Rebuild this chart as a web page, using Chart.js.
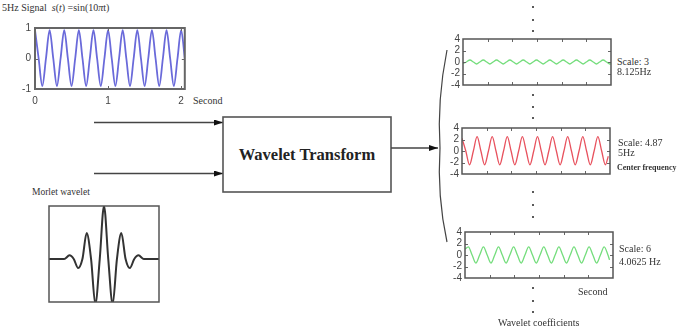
<!DOCTYPE html>
<html><head><meta charset="utf-8">
<script src="https://cdn.jsdelivr.net/npm/chart.js@4"></script>
<style>
html,body{margin:0;padding:0;background:#fff;width:696px;height:336px;overflow:hidden;}
#wrap{position:relative;width:696px;height:336px;}
canvas{position:absolute;}
svg{position:absolute;left:0;top:0;}
.t{position:absolute;font-family:"Liberation Serif","Times New Roman",serif;color:#333;white-space:nowrap;line-height:1;font-size:10px;}
.dot{position:absolute;width:2px;height:2px;background:#222;border-radius:1px;}
#boxtxt{position:absolute;left:223px;top:117px;width:168px;height:75px;display:flex;align-items:center;justify-content:center;font-family:"Liberation Serif","Times New Roman",serif;font-weight:bold;font-size:16.5px;color:#222;}
</style></head>
<body><div id="wrap">
<svg width="696" height="336">
  <defs>
    <marker id="ah" markerWidth="9" markerHeight="6" refX="9" refY="3" orient="auto" markerUnits="userSpaceOnUse">
      <path d="M0,0 L9,3 L0,6 z" fill="#111"/>
    </marker>
  </defs>
  <line x1="94" y1="122.5" x2="223" y2="122.5" stroke="#444" stroke-width="1.5" marker-end="url(#ah)"/>
  <line x1="94" y1="173.5" x2="223" y2="173.5" stroke="#444" stroke-width="1.5" marker-end="url(#ah)"/>
  <rect x="223" y="117" width="168" height="75" fill="#fff" stroke="#555" stroke-width="1.6"/>
  <line x1="391" y1="148" x2="438" y2="148" stroke="#444" stroke-width="1.5" marker-end="url(#ah)"/>
  <path d="M447,50 Q437,100 440,148 Q437,196 447,242" fill="none" stroke="#444" stroke-width="1.2"/>
</svg>
<div id="boxtxt">Wavelet Transform</div>

<canvas id="sig" width="180" height="90" style="left:10px;top:18px"></canvas>
<canvas id="mor" width="120" height="108" style="left:45px;top:200px"></canvas>
<canvas id="c1" width="178" height="64" style="left:438px;top:30px"></canvas>
<canvas id="c2" width="178" height="64" style="left:437px;top:119px"></canvas>
<canvas id="c3" width="178" height="64" style="left:440px;top:223px"></canvas>

<div class="t" style="left:2px;top:3px">5Hz Signal&nbsp; <i>s</i>(<i>t</i>) =sin(10<i>π</i>t)</div>
<div class="t" style="left:193px;top:96px">Second</div>
<div class="t" style="left:32px;top:188px;font-size:9.5px">Morlet wavelet</div>
<div class="t" style="left:617px;top:57px">Scale: 3</div>
<div class="t" style="left:617px;top:67px">8.125Hz</div>
<div class="t" style="left:618px;top:138px">Scale: 4.87</div>
<div class="t" style="left:618px;top:148px">5Hz</div>
<div class="t" style="left:617px;top:164px;font-size:8px;font-weight:bold">Center frequency</div>
<div class="t" style="left:619px;top:244px">Scale: 6</div>
<div class="t" style="left:619px;top:257px">4.0625 Hz</div>
<div class="t" style="left:578px;top:287px">Second</div>
<div class="t" style="left:498px;top:318px">Wavelet coefficients</div>
<div id="dots"></div>
</div>
<script>
// ---------- data ----------
const signalT = [0,0.05,0.1,0.15,0.2,0.25,0.3,0.35,0.4,0.45,0.5,0.55,0.6,0.65,0.7,0.75,0.8,0.85,0.9,0.95,1,1.05,1.1,1.15,1.2,1.25,1.3,1.35,1.4,1.45,1.5,1.55,1.6,1.65,1.7,1.75,1.8,1.85,1.9,1.95,2,2.05];
const signalV = [0.93,0,-0.9,0,0.93,0,-0.9,0,0.93,0,-0.9,0,0.93,0,-0.9,0,0.93,0,-0.9,0,0.93,0,-0.9,0,0.93,0,-0.9,0,0.93,0,-0.9,0,0.93,0,-0.9,0,0.93,0,-0.9,0,0.93,0];
const signalXTicks = [0,1,2];
const signalYTicks = [-1,0,1];

const morletX = [-4,-2.9,-2.51,-2.2,-1.88,-1.57,-1.26,-0.94,-0.63,-0.31,0,0.31,0.63,0.94,1.26,1.57,1.88,2.2,2.51,2.9,4];
const morletV = [0,0,0.07,0,-0.17,0,0.49,0,-0.85,0,1,0,-0.85,0,0.49,0,-0.17,0,0.07,0,0];

const coefYTicks = [-4,-2,0,2,4];
const coefXTicks = [0.5,1,1.5,2,2.5];

const scale3T = [0,0.07,0.14,0.21,0.275,0.34,0.41,0.48,0.545,0.61,0.68,0.75,0.815,0.88,0.95,1.02,1.085,1.15,1.22,1.29,1.355,1.42,1.49,1.56,1.625,1.69,1.76,1.83,1.895,1.96,2.03,2.1,2.165,2.23,2.3,2.37,2.435,2.5,2.57,2.64,2.705,2.77,2.84,2.91,2.975,3.0];
const scale3V = [-0.25,0,0.35,0,-0.35,0,0.35,0,-0.35,0,0.35,0,-0.35,0,0.35,0,-0.35,0,0.35,0,-0.35,0,0.35,0,-0.35,0,0.35,0,-0.35,0,0.35,0,-0.35,0,0.35,0,-0.35,0,0.35,0,-0.35,0,0.35,0,-0.35,-0.33];

const scale487T = [0,0.077,0.153,0.23,0.306,0.383,0.459,0.536,0.612,0.689,0.765,0.842,0.918,0.995,1.071,1.148,1.224,1.301,1.377,1.454,1.53,1.607,1.683,1.76,1.836,1.913,1.989,2.066,2.142,2.219,2.295,2.372,2.448,2.525,2.601,2.678,2.754,2.831,2.907,2.965];
const scale487V = [2.2,0,-2.4,0,2.5,0,-2.4,0,2.5,0,-2.4,0,2.5,0,-2.4,0,2.5,0,-2.4,0,2.5,0,-2.4,0,2.5,0,-2.4,0,2.5,0,-2.4,0,2.5,0,-2.4,0,2.5,0,-2.4,-0.9];

const scale6T = [0,0.067,0.144,0.22,0.297,0.373,0.45,0.526,0.603,0.679,0.756,0.832,0.909,0.985,1.062,1.138,1.215,1.291,1.368,1.444,1.521,1.597,1.674,1.75,1.827,1.903,1.98,2.056,2.133,2.209,2.286,2.362,2.439,2.515,2.592,2.668,2.745,2.821,2.898,2.93];
const scale6V = [1.0,1.4,0,-1.4,0,1.4,0,-1.4,0,1.4,0,-1.4,0,1.4,0,-1.4,0,1.4,0,-1.4,0,1.4,0,-1.4,0,1.4,0,-1.4,0,1.4,0,-1.4,0,1.4,0,-1.4,0,1.4,0,-0.85];

const dotYs = [7,20,31,95,107,118,192,205,217,288,301,312];

// ---------- helpers ----------
function zip(xs, ys){ return xs.map((x,i)=>({x:x, y:ys[i]})); }

const framePlugin = {
  id:'frame',
  afterDraw(chart, args, o){
    const ctx = chart.ctx, a = chart.chartArea;
    ctx.save();
    if (o.tickLen){
      ctx.strokeStyle = o.tickColor || '#666'; ctx.lineWidth = 1;
      const xs = chart.scales.x, ys = chart.scales.y;
      ctx.beginPath();
      xs.ticks.forEach(t=>{ const p = Math.round(xs.getPixelForValue(t.value))+0.5;
        if (p <= a.left+2 || p >= a.right-2) return;
        ctx.moveTo(p,a.bottom); ctx.lineTo(p,a.bottom-o.tickLen);
        ctx.moveTo(p,a.top); ctx.lineTo(p,a.top+o.tickLen); });
      ys.ticks.forEach(t=>{ const p = Math.round(ys.getPixelForValue(t.value))+0.5;
        if (p <= a.top+2 || p >= a.bottom-2) return;
        ctx.moveTo(a.left,p); ctx.lineTo(a.left+o.tickLen,p);
        ctx.moveTo(a.right,p); ctx.lineTo(a.right-o.tickLen,p); });
      ctx.stroke();
    }
    ctx.strokeStyle = o.color || '#555'; ctx.lineWidth = o.width || 1.5;
    ctx.strokeRect(a.left, a.top, a.right-a.left, a.bottom-a.top);
    ctx.restore();
  }
};

const tickFont = {family:'"Liberation Sans", Arial, sans-serif', size:10};

function axis(min, max, ticksArr, showLabels, fitSize, horizontal, pad){
  return {
    type:'linear', min:min, max:max,
    afterBuildTicks: s => { s.ticks = ticksArr.map(v=>({value:v})); },
    afterFit: s => { if (horizontal) s.height = fitSize; else s.width = fitSize; },
    grid:{display:false, drawTicks:false},
    border:{display:false},
    ticks:{display:showLabels, font:tickFont, color:'#444', padding:pad, autoSkip:false, maxRotation:0,
           callback: v => String(v)}
  };
}

function lineDS(xs, ys, color, w){
  return {data: zip(xs,ys), borderColor:color, borderWidth:w, pointRadius:0, fill:false,
          cubicInterpolationMode:'monotone'};
}

function baseOpts(padding, scales, frameOpts){
  return {
    responsive:false, maintainAspectRatio:false, animation:false, events:[],
    layout:{padding:padding},
    scales:scales,
    plugins:{legend:{display:false}, tooltip:{enabled:false}, frame:frameOpts}
  };
}

// ---------- charts ----------
new Chart(document.getElementById('sig'), {
  type:'line',
  data:{datasets:[lineDS(signalT, signalV, '#6a6ada', 1.8)]},
  options: baseOpts({top:7,right:3,left:0,bottom:0}, {
    x: axis(0, 2.05, signalXTicks, true, 19, true, 6),
    y: axis(-1, 1, signalYTicks, true, 25, false, 4)
  }, {color:'#666', width:2, tickLen:3}),
  plugins:[framePlugin]
});

new Chart(document.getElementById('mor'), {
  type:'line',
  data:{datasets:[lineDS(morletX, morletV, '#333', 2)]},
  options: baseOpts({left:4,top:6,right:6,bottom:6}, {
    x: Object.assign(axis(-4, 4, [], false, 0, true, 0), {display:false}),
    y: Object.assign(axis(-0.81, 1, [], false, 0, false, 0), {display:false})
  }, {color:'#555', width:1.5, tickLen:0}),
  plugins:[framePlugin]
});

function coefChart(id, xs, ys, color){
  new Chart(document.getElementById(id), {
    type:'line',
    data:{datasets:[lineDS(xs, ys, color, 1.3)]},
    options: baseOpts({top:6,right:5,left:0,bottom:5}, {
      x: axis(0, 3, coefXTicks, false, 0, true, 0),
      y: axis(-4, 4, coefYTicks, true, 25, false, 3)
    }, {color:'#555', width:1.5, tickLen:3}),
    plugins:[framePlugin]
  });
}
coefChart('c1', scale3T, scale3V, '#74dd7c');
coefChart('c2', scale487T, scale487V, '#e8525e');
coefChart('c3', scale6T, scale6V, '#74dd7c');

const dots = document.getElementById('dots');
dotYs.forEach(y => { const d = document.createElement('div'); d.className='dot';
  d.style.left='532px'; d.style.top=(y-1)+'px'; dots.appendChild(d); });
</script>
</body></html>
